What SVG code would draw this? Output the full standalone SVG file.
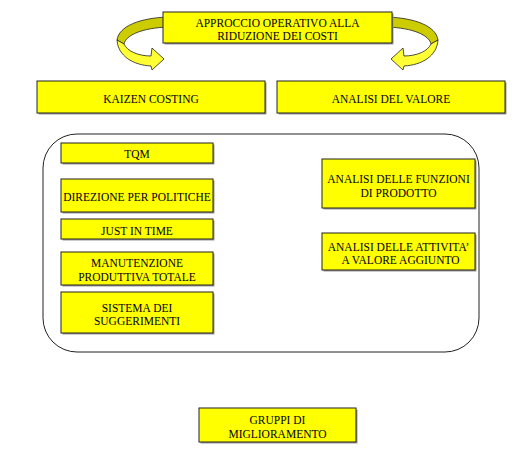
<svg xmlns="http://www.w3.org/2000/svg" width="524" height="450" viewBox="0 0 524 450">
<style>
.box{fill:#ffff00;stroke:#222;stroke-width:1}
.sh{fill:#9a9a9a}
.t{font-family:"Liberation Serif","Times New Roman",serif;font-size:11.5px;fill:#000;text-anchor:middle}
.back{fill:#cccc00;stroke:#222;stroke-width:0.8;stroke-linejoin:round}
.front{fill:#ffff33;stroke:#222;stroke-width:0.8;stroke-linejoin:round}
</style>
<rect width="524" height="450" fill="#fff"/>
<g id="connectors">
  <g id="arrow-left">
    <path class="back" d="M168,17 C140,18 119,26 117,40 L124,44 C126,35 142,28 168,27 Z"/>
    <path class="front" d="M117,40 C118,56 133,65 151,66 L152,70 L164,59 L152,48 L151,56 C138,56 127,51 124,44 Z"/>
  </g>
  <g id="arrow-right" transform="translate(555,0) scale(-1,1)">
    <path class="back" d="M168,17 C140,18 119,26 117,40 L124,44 C126,35 142,28 168,27 Z"/>
    <path class="front" d="M117,40 C118,56 133,65 151,66 L152,70 L164,59 L152,48 L151,56 C138,56 127,51 124,44 Z"/>
  </g>
</g>
<g id="n-top">
  <rect class="sh" x="164.5" y="13.5" width="229" height="31"/>
  <rect class="box" x="163" y="12" width="229" height="31"/>
  <text class="t" x="277.5" y="26.5">APPROCCIO OPERATIVO ALLA</text>
  <text class="t" x="277.5" y="39.5">RIDUZIONE DEI COSTI</text>
</g>
<g id="n-kaizen">
  <rect class="sh" x="38.5" y="82.5" width="228" height="32"/>
  <rect class="box" x="37" y="81" width="228" height="32"/>
  <text class="t" x="151" y="102.5">KAIZEN COSTING</text>
</g>
<g id="n-valore">
  <rect class="sh" x="278.5" y="82.5" width="228" height="32"/>
  <rect class="box" x="277" y="81" width="228" height="32"/>
  <text class="t" x="391" y="102.5">ANALISI DEL VALORE</text>
</g>
<g id="n-container">
  <rect x="43" y="134" width="436" height="218" rx="34" ry="34" fill="none" stroke="#222" stroke-width="1"/>
</g>
<g id="n-tqm">
  <rect class="sh" x="62.5" y="144.5" width="152" height="20"/>
  <rect class="box" x="61" y="143" width="152" height="20"/>
  <text class="t" x="137" y="158">TQM</text>
</g>
<g id="n-direzione">
  <rect class="sh" x="62.5" y="180.5" width="152" height="33"/>
  <rect class="box" x="61" y="179" width="152" height="33"/>
  <text class="t" x="137" y="201">DIREZIONE PER POLITICHE</text>
</g>
<g id="n-jit">
  <rect class="sh" x="62.5" y="220.5" width="152" height="20"/>
  <rect class="box" x="61" y="219" width="152" height="20"/>
  <text class="t" x="137" y="234.5">JUST IN TIME</text>
</g>
<g id="n-manutenzione">
  <rect class="sh" x="62.5" y="253.5" width="152" height="33"/>
  <rect class="box" x="61" y="252" width="152" height="33"/>
  <text class="t" x="137" y="266.5">MANUTENZIONE</text>
  <text class="t" x="137" y="280.5">PRODUTTIVA TOTALE</text>
</g>
<g id="n-sistema">
  <rect class="sh" x="62.5" y="293.5" width="152" height="41"/>
  <rect class="box" x="61" y="292" width="152" height="41"/>
  <text class="t" x="137" y="311.5">SISTEMA DEI</text>
  <text class="t" x="137" y="324.5">SUGGERIMENTI</text>
</g>
<g id="n-funzioni">
  <rect class="sh" x="323.5" y="160.5" width="153" height="49"/>
  <rect class="box" x="322" y="159" width="153" height="49"/>
  <text class="t" x="398.5" y="182.5">ANALISI DELLE FUNZIONI</text>
  <text class="t" x="398.5" y="196.5">DI PRODOTTO</text>
</g>
<g id="n-attivita">
  <rect class="sh" x="323.5" y="234.5" width="153" height="37"/>
  <rect class="box" x="322" y="233" width="153" height="37"/>
  <text class="t" x="398.5" y="250.5">ANALISI DELLE ATTIVITA’</text>
  <text class="t" x="400.5" y="264">A VALORE AGGIUNTO</text>
</g>
<g id="n-gruppi">
  <rect class="sh" x="200.5" y="409.5" width="157" height="34"/>
  <rect class="box" x="199" y="408" width="157" height="34"/>
  <text class="t" x="277.5" y="424">GRUPPI DI</text>
  <text class="t" x="277.5" y="438">MIGLIORAMENTO</text>
</g>
</svg>
